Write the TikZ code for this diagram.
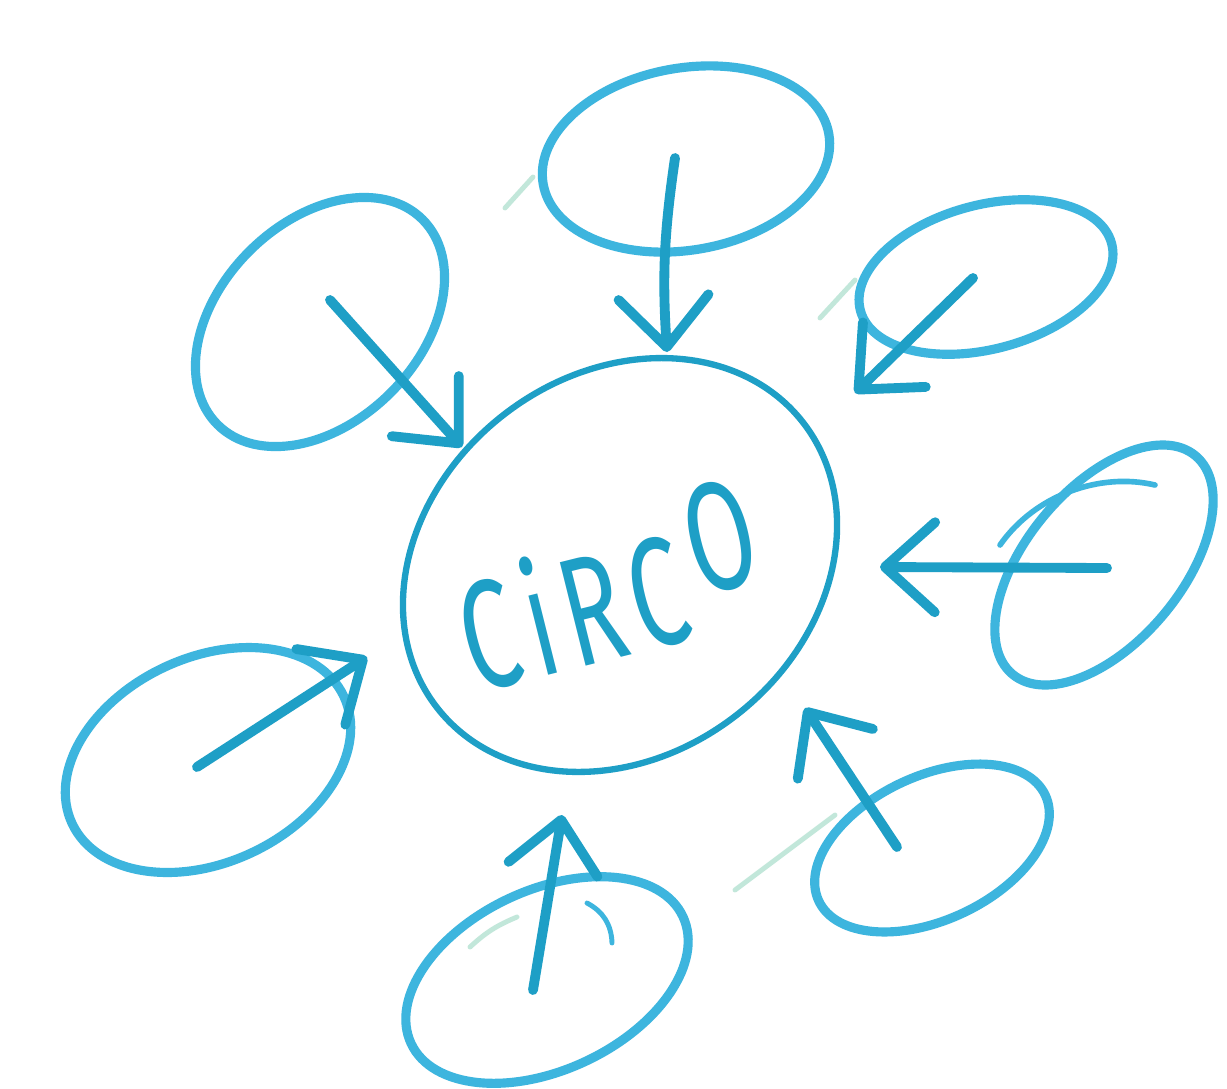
\documentclass[tikz,border=0pt]{standalone}
\usepackage{fontspec}
\newfontfamily\handfont{Fira Sans}
\usetikzlibrary{shapes.geometric,arrows.meta}
\definecolor{ringblue}{HTML}{3DB5DE}
\definecolor{inkblue}{HTML}{1E9FC6}
\definecolor{pencilgreen}{HTML}{A9DDCB}
\tikzset{bubble/.style={ellipse,draw=ringblue,line width=2.6pt,inner sep=0pt},
  hub/.style={ellipse,draw=inkblue,line width=1.8pt,inner sep=0pt,minimum width=4.64cm,minimum height=3.8cm,rotate=38},
  arr/.style={inkblue,line width=2.8pt,line cap=round,-{Straight Barb[round,length=5mm,width=9mm]}},
  trace/.style={pencilgreen,line width=1.4pt,opacity=.7,line cap=round}}

\begin{document}
\begin{tikzpicture}
\fill[white] (0,0) rectangle (12.27,-10.88);
\useasboundingbox (0,0) rectangle (12.27,-10.88);
\node[hub] (circo) at (6.20,-5.65) {};
\node[inkblue,rotate=14,font=\handfont\fontsize{44}{44}\selectfont] (lbl) at (6.08,-5.85) {\scalebox{0.64}[1]{C\kern0.1em i\kern0.1em R\kern0.1em C\kern0.12em\raisebox{0.4cm}{O}}};
\node[bubble,minimum width=2.9cm,minimum height=2.0cm,rotate=45] (e1) at (3.20,-3.22) {};
\node[bubble,minimum width=2.9cm,minimum height=1.82cm,rotate=10] (e2) at (6.86,-1.59) {};
\node[bubble,minimum width=2.6cm,minimum height=1.44cm,rotate=15] (e3) at (9.86,-2.77) {};
\node[bubble,minimum width=2.85cm,minimum height=1.55cm,rotate=50] (e4) at (11.04,-5.65) {};
\node[bubble,minimum width=2.5cm,minimum height=1.44cm,rotate=25] (e5) at (9.32,-8.48) {};
\node[bubble,minimum width=3.0cm,minimum height=1.8cm,rotate=25] (e6) at (5.47,-9.80) {};
\node[bubble,minimum width=3.0cm,minimum height=2.05cm,rotate=25] (e7) at (2.08,-7.60) {};
\coordinate (t1) at (3.30,-3.00); \coordinate (h1) at (4.62,-4.47);
\coordinate (t2) at (6.75,-1.58); \coordinate (h2) at (6.67,-3.52);
\coordinate (t3) at (9.73,-2.78); \coordinate (h3) at (8.55,-3.93);
\coordinate (t4) at (11.07,-5.68); \coordinate (h4) at (8.80,-5.67);
\coordinate (t5) at (8.97,-8.47); \coordinate (h5) at (8.05,-7.08);
\coordinate (t6) at (5.33,-9.90); \coordinate (h6) at (5.62,-8.15);
\coordinate (t7) at (1.97,-7.67); \coordinate (h7) at (3.67,-6.57);
\foreach \i in {1,3,4,5,6,7} \draw[arr] (t\i) -- (h\i);
\draw[arr] (t2) to[bend right=6] (h2);
\draw[ringblue,line width=1.6pt,line cap=round] (10.00,-5.45) .. controls (10.35,-4.95) and (11.0,-4.72) .. (11.55,-4.85);
\draw[ringblue,line width=1.4pt,line cap=round] (5.87,-9.03) to[bend left=30] (6.12,-9.43);
\draw[trace] (7.35,-8.90) -- (8.35,-8.15);
\draw[trace] (5.05,-2.08) -- (5.33,-1.77);
\draw[trace] (8.20,-3.18) -- (8.55,-2.80);
\draw[trace] (4.70,-9.47) to[bend left=10] (5.17,-9.17);
\end{tikzpicture}
\end{document}
